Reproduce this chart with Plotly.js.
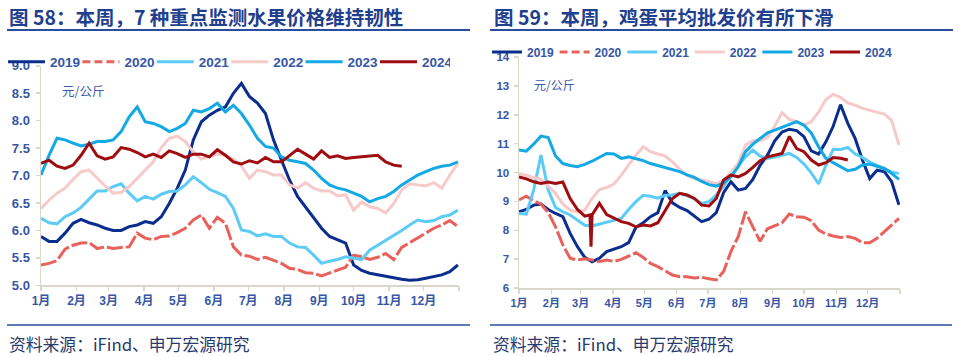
<!DOCTYPE html>
<html>
<head>
<meta charset="utf-8">
<script src="https://cdn.plot.ly/plotly-3.0.1.min.js"></script>
<style>
html,body{margin:0;padding:0;background:#fff;}
#chart{width:960px;height:356px;}
</style>
</head>
<body>
<div id="chart"></div>
<script>
// ---- shared axis data ----
const monthStarts = [0,31,59,90,120,151,181,212,243,273,304,334,365];
const monthLabels = ['1月','2月','3月','4月','5月','6月','7月','8月','9月','10月','11月','12月',''];
const years = ['2019','2020','2021','2022','2023','2024'];

// day-of-year sample positions (weekly)
const days = [0,7,14,21,28,35,42,49,56,63,70,77,84,91,98,105,112,119,126,133,140,147,154,161,168,175,182,189,196,203,210,217,224,231,238,245,252,259,266,273,280,287,294,301,308,315,322,329,336,343,350,357,364];

// ---- Chart 58: 7 key fruits average wholesale price (元/公斤) ----
const fruit2019 = [5.89,5.80,5.80,5.95,6.13,6.20,6.14,6.10,6.04,6.00,6.00,6.07,6.10,6.16,6.13,6.25,6.49,6.77,7.10,7.65,7.98,8.10,8.19,8.25,8.50,8.68,8.44,8.32,8.13,7.65,7.28,6.92,6.62,6.43,6.25,6.04,5.89,5.83,5.77,5.37,5.27,5.22,5.19,5.16,5.13,5.11,5.09,5.10,5.13,5.16,5.19,5.25,5.37];
const fruit2020 = [5.37,5.40,5.45,5.66,5.73,5.77,5.78,5.67,5.70,5.67,5.69,5.70,5.95,5.86,5.83,5.89,5.90,5.96,6.04,6.19,6.28,6.04,6.24,6.13,5.70,5.55,5.53,5.47,5.51,5.46,5.40,5.31,5.29,5.23,5.22,5.17,5.22,5.27,5.33,5.55,5.52,5.47,5.51,5.58,5.47,5.69,5.78,5.87,5.95,6.04,6.10,6.18,6.07];
const fruit2021 = [6.22,6.14,6.12,6.25,6.32,6.42,6.57,6.72,6.72,6.80,6.85,6.68,6.54,6.62,6.57,6.66,6.71,6.72,6.83,6.98,6.87,6.75,6.69,6.62,6.40,6.01,5.98,5.90,5.94,5.89,5.89,5.77,5.70,5.69,5.55,5.40,5.44,5.47,5.52,5.49,5.47,5.64,5.73,5.81,5.90,6.00,6.10,6.19,6.16,6.18,6.25,6.28,6.37];
const fruit2022 = [6.40,6.55,6.68,6.77,6.93,7.07,7.10,6.95,6.81,6.68,6.69,6.80,6.95,7.10,7.25,7.51,7.68,7.72,7.62,7.43,7.30,7.34,7.39,7.37,7.30,7.17,6.95,7.10,7.07,7.01,7.01,6.83,6.77,6.87,6.77,6.72,6.72,6.63,6.65,6.37,6.52,6.43,6.40,6.32,6.49,6.74,6.85,6.83,6.81,6.87,6.77,7.01,7.22];
const fruit2023 = [7.01,7.37,7.68,7.65,7.59,7.54,7.57,7.62,7.62,7.65,7.80,8.07,8.25,7.98,7.95,7.89,7.80,7.86,7.95,8.19,8.16,8.22,8.32,8.16,8.28,8.13,7.92,7.68,7.53,7.50,7.34,7.28,7.25,7.22,7.10,6.95,6.83,6.77,6.74,6.68,6.62,6.52,6.58,6.62,6.71,6.83,6.92,7.01,7.07,7.13,7.17,7.19,7.25];
const fruit2024 = [7.22,7.28,7.17,7.13,7.19,7.37,7.59,7.36,7.30,7.34,7.51,7.48,7.42,7.34,7.39,7.33,7.45,7.40,7.33,7.39,7.39,7.34,7.47,7.37,7.25,7.21,7.27,7.23,7.33,7.25,7.25,7.36,7.48,7.39,7.30,7.45,7.33,7.36,7.31,7.33,7.34,7.36,7.37,7.25,7.19,7.17];

// ---- Chart 59: average egg wholesale price (元/公斤) ----
const egg2019 = [8.64,8.72,8.87,8.91,8.72,8.58,8.47,7.89,7.43,7.06,6.91,7.03,7.26,7.34,7.43,7.57,8.10,8.26,8.47,8.61,9.38,8.95,8.79,8.68,8.49,8.30,8.38,8.61,9.30,9.68,9.39,9.45,9.76,10.25,10.60,11.10,11.40,11.50,11.45,11.24,10.75,10.64,11.06,11.60,12.35,11.70,11.18,10.43,9.79,10.08,10.03,9.68,8.88];
const egg2020 = [9.05,9.18,9.02,8.91,8.61,8.12,7.49,7.03,6.97,7.01,6.97,6.92,6.97,6.92,6.99,7.11,7.22,7.06,6.85,6.74,6.58,6.45,6.39,6.39,6.35,6.37,6.32,6.28,6.57,7.26,7.78,8.64,8.12,7.62,8.05,8.15,8.26,8.56,8.47,8.45,8.33,8.01,7.87,7.80,7.75,7.78,7.72,7.57,7.57,7.72,7.95,8.21,8.41];
const egg2021 = [8.58,8.56,9.39,10.60,9.39,8.79,8.64,8.53,8.35,8.17,8.15,8.21,8.28,8.33,8.41,8.72,8.99,9.21,9.18,9.11,9.21,9.22,9.28,9.19,9.10,8.93,8.99,9.22,9.51,9.94,10.22,10.54,10.78,10.57,10.49,10.54,10.60,10.66,10.52,10.29,9.99,9.60,10.25,10.80,10.80,10.87,10.64,10.52,10.36,10.24,10.13,10.01,9.97];
const egg2022 = [9.97,9.90,9.85,9.76,9.53,9.28,8.91,8.70,8.63,8.70,9.10,9.41,9.48,9.60,9.91,10.26,10.60,10.89,10.72,10.64,10.57,10.37,10.11,9.91,9.79,9.74,9.68,9.62,9.71,10.03,10.31,10.95,11.10,11.10,11.21,11.61,12.07,11.84,11.76,11.64,11.76,12.10,12.53,12.71,12.60,12.41,12.33,12.22,12.16,12.10,12.02,11.81,10.95];
const egg2023 = [10.78,10.74,10.98,11.26,11.21,10.57,10.31,10.24,10.20,10.28,10.39,10.52,10.66,10.64,10.49,10.54,10.48,10.41,10.31,10.24,10.18,10.11,10.03,9.92,9.83,9.69,9.58,9.53,9.64,9.85,10.20,10.72,10.98,11.18,11.37,11.47,11.56,11.67,11.76,11.64,11.37,10.89,10.49,10.34,10.20,10.06,10.11,10.26,10.29,10.22,10.14,9.97,9.76];
const egg2024Days = [0,7,14,21,28,35,42,49,56,63,68,69,70,77,84,91,98,105,112,119,126,133,140,147,154,161,168,175,182,189,196,203,210,217,224,231,238,245,252,259,266,273,280,287,294,301,308,315];
const egg2024 = [9.85,9.78,9.68,9.62,9.67,9.62,9.67,9.10,8.72,8.49,8.53,7.43,8.53,8.93,8.54,8.41,8.30,8.24,8.12,8.18,8.15,8.26,8.70,9.10,9.28,9.22,9.10,8.87,8.84,9.10,9.74,9.91,9.85,9.97,10.18,10.41,10.54,10.61,10.66,11.25,10.83,10.72,10.43,10.26,10.34,10.52,10.49,10.43];

// ---- styles ----
const colors = {'2019':'#0B2E8E','2020':'#E8615B','2021':'#5CCBF6','2022':'#F7CACA','2023':'#12A9E5','2024':'#A00D10'};
const lineDash = {'2020':'16px,3px'};    // dash used on the chart line
const legendDash = {'2020':'8px,4px'};   // dash shown in the legend key
const FONT = 'Liberation Sans, Arial, "Noto Sans CJK SC", sans-serif';
const CJK = '"Noto Sans CJK SC", Liberation Sans, Arial, sans-serif';
const TXT = '#3656A6';
const W = 960, H = 356;
const px = v => v / W, py = v => 1 - v / H;

const traces = [];
function addSeries(x, y, year, xa, ya, leg) {
  const dashed = !!lineDash[year];
  traces.push({
    x: x, y: y, type: 'scatter', mode: 'lines', name: year,
    xaxis: xa, yaxis: ya, legend: leg, showlegend: !dashed,
    line: {color: colors[year], width: 3, dash: lineDash[year] || 'solid'},
    hoverinfo: 'skip'
  });
  if (dashed) {
    // legend key only (no data points)
    traces.push({
      x: [null], y: [null], type: 'scatter', mode: 'lines', name: year,
      xaxis: xa, yaxis: ya, legend: leg, showlegend: true,
      line: {color: colors[year], width: 3, dash: legendDash[year]},
      hoverinfo: 'skip'
    });
  }
}

const fruitSeries = [fruit2019, fruit2020, fruit2021, fruit2022, fruit2023, fruit2024];
const eggSeries = [egg2019, egg2020, egg2021, egg2022, egg2023, egg2024];
years.forEach((yr, i) => {
  const v = fruitSeries[i];
  addSeries(days.slice(0, v.length), v, yr, 'x', 'y', 'legend');
});
years.forEach((yr, i) => {
  const v = eggSeries[i];
  const xs = yr === '2024' ? egg2024Days : days.slice(0, v.length);
  addSeries(xs, v, yr, 'x2', 'y2', 'legend2');
});

const axisCommon = {
  showline: true, linecolor: '#DAD6CA', linewidth: 1.5,
  ticks: 'outside', ticklen: 4, tickcolor: '#DAD6CA', tickwidth: 1.5,
  showgrid: false, zeroline: false, fixedrange: true
};

const layout = {
  width: W, height: H,
  margin: {l: 0, r: 0, t: 0, b: 0},
  paper_bgcolor: '#ffffff', plot_bgcolor: '#ffffff',
  font: {family: FONT, color: TXT},
  showlegend: true,
  xaxis: Object.assign({}, axisCommon, {
    domain: [px(41), px(459)], range: [0, 365], anchor: 'y',
    tickvals: monthStarts, ticktext: monthLabels,
    tickfont: {size: 12, color: TXT, family: FONT, weight: 'bold'}
  }),
  yaxis: Object.assign({}, axisCommon, {
    domain: [py(285.3), py(65.8)], range: [5, 9], anchor: 'x',
    dtick: 0.5, tick0: 5, tickformat: '.1f', ticklabelstandoff: 3,
    tickfont: {size: 13, color: TXT, family: FONT, weight: 'bold'}
  }),
  xaxis2: Object.assign({}, axisCommon, {
    domain: [px(519), px(900)], range: [0, 365], anchor: 'y2',
    tickvals: monthStarts, ticktext: monthLabels,
    tickfont: {size: 11, color: TXT, family: FONT, weight: 'bold'}
  }),
  yaxis2: Object.assign({}, axisCommon, {
    domain: [py(288), py(57)], range: [6, 14], anchor: 'x2',
    dtick: 1, tick0: 6, ticklabelstandoff: 2,
    tickfont: {size: 11.5, color: TXT, family: FONT, weight: 'bold'}
  }),
  legend: {
    orientation: 'h', x: px(3), y: py(62), xanchor: 'left', yanchor: 'middle',
    itemwidth: 37, entrywidth: 22.4, entrywidthmode: 'pixels',
    font: {size: 13.5, color: TXT, family: FONT, weight: 'bold'},
    bgcolor: 'rgba(0,0,0,0)', borderwidth: 0
  },
  legend2: {
    orientation: 'h', x: px(487), y: py(52), xanchor: 'left', yanchor: 'middle',
    entrywidth: 22.6, entrywidthmode: 'pixels',
    font: {size: 12, color: TXT, family: FONT, weight: 'bold'},
    bgcolor: 'rgba(0,0,0,0)', borderwidth: 0
  },
  shapes: [
    {type: 'line', xref: 'paper', yref: 'paper', x0: px(7), x1: px(470), y0: py(30), y1: py(30), line: {color: '#2B4DA0', width: 2}},
    {type: 'line', xref: 'paper', yref: 'paper', x0: px(490), x1: px(953), y0: py(30), y1: py(30), line: {color: '#2B4DA0', width: 2}},
    {type: 'line', xref: 'paper', yref: 'paper', x0: px(7), x1: px(470), y0: py(325), y1: py(325), line: {color: '#2B4DA0', width: 1.5}},
    {type: 'line', xref: 'paper', yref: 'paper', x0: px(490), x1: px(952), y0: py(325), y1: py(325), line: {color: '#2B4DA0', width: 1.5}}
  ],
  annotations: [
    {xref: 'paper', yref: 'paper', x: px(7), y: py(16), xanchor: 'left', yanchor: 'middle', showarrow: false,
     text: '<b>图 58：本周，7 种重点监测水果价格维持韧性</b>', font: {size: 19.5, color: '#1F3F8F', family: CJK}},
    {xref: 'paper', yref: 'paper', x: px(492), y: py(16), xanchor: 'left', yanchor: 'middle', showarrow: false,
     text: '<b>图 59：本周，鸡蛋平均批发价有所下滑</b>', font: {size: 19.5, color: '#1F3F8F', family: CJK}},
    {xref: 'paper', yref: 'paper', x: px(60), y: py(90), xanchor: 'left', yanchor: 'middle', showarrow: false,
     text: '元/公斤', font: {size: 12.5, color: '#3B5AA8', family: CJK}},
    {xref: 'paper', yref: 'paper', x: px(532), y: py(85), xanchor: 'left', yanchor: 'middle', showarrow: false,
     text: '元/公斤', font: {size: 12, color: '#3B5AA8', family: CJK}},
    {xref: 'paper', yref: 'paper', x: px(7), y: py(344), xanchor: 'left', yanchor: 'middle', showarrow: false,
     text: '资料来源：iFind、申万宏源研究', font: {size: 16.8, color: '#2A3A6E', family: CJK}},
    {xref: 'paper', yref: 'paper', x: px(491), y: py(344), xanchor: 'left', yanchor: 'middle', showarrow: false,
     text: '资料来源：iFind、申万宏源研究', font: {size: 16.8, color: '#2A3A6E', family: CJK}}
  ]
};

Plotly.newPlot('chart', traces, layout, {staticPlot: true, displayModeBar: false});
</script>
</body>
</html>
